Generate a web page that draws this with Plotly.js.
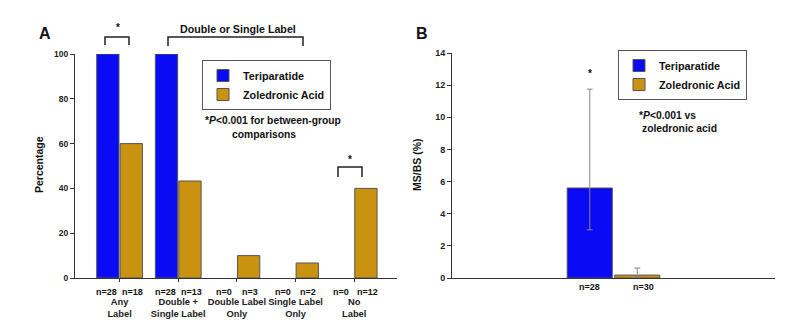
<!DOCTYPE html>
<html>
<head>
<meta charset="utf-8">
<script src="https://cdn.plot.ly/plotly-3.0.1.min.js"></script>
<style>
  html, body { margin: 0; padding: 0; background: #fff; }
  #chart { width: 785px; height: 325px; }
</style>
</head>
<body>
<div id="chart"></div>
<script>
// ---------- Data ----------
const categoriesA = ['Any<br>Label', 'Double +<br>Single Label', 'Double Label<br>Only', 'Single Label<br>Only', 'No<br>Label'];
const teriparatidePct = [100, 100, 0, 0, 0];
const zoledronicPct = [60, 43.3, 10, 6.7, 40];
const nTeriA = [28, 28, 0, 0, 0];
const nZolA = [18, 13, 3, 2, 12];

const categoriesB = ['MS/BS'];
const teriparatideMSBS = [5.6];
const zoledronicMSBS = [0.18];
const teriErrPlus = [6.15];
const teriErrMinus = [2.6];
const zolErrPlus = [0.44];
const zolErrMinus = [0.1];
const nTeriB = [28];
const nZolB = [30];

const yTicksA = [0, 20, 40, 60, 80, 100];
const yTicksB = [0, 2, 4, 6, 8, 10, 12, 14];

// ---------- Helpers ----------
const W = 785, H = 325;
const px = x => x / W;
const py = y => 1 - y / H;
const FONT = 'Arial, "Liberation Sans", sans-serif';
const BLUE = '#0a0af5';
const GOLD = '#c99210';
const AX = '#333333';

const xA = categoriesA.map((_, i) => i);
const xB = categoriesB.map((_, i) => i);
const outline = vals => vals.map(v => (v > 0 ? 1 : 0));

const traces = [
  { type: 'bar', name: 'Teriparatide', x: xA, y: teriparatidePct, xaxis: 'x', yaxis: 'y',
    marker: { color: BLUE, line: { color: '#555', width: outline(teriparatidePct) } }, legend: 'legend', hoverinfo: 'y' },
  { type: 'bar', name: 'Zoledronic Acid', x: xA, y: zoledronicPct, xaxis: 'x', yaxis: 'y',
    marker: { color: GOLD, line: { color: '#555', width: outline(zoledronicPct) } }, legend: 'legend', hoverinfo: 'y' },
  { type: 'bar', name: 'Teriparatide', x: xB, y: teriparatideMSBS, xaxis: 'x2', yaxis: 'y2',
    marker: { color: BLUE, line: { color: '#555', width: 1 } }, legend: 'legend2',
    error_y: { type: 'data', symmetric: false, array: teriErrPlus, arrayminus: teriErrMinus, color: '#888', thickness: 1, width: 3 } },
  { type: 'bar', name: 'Zoledronic Acid', x: xB, y: zoledronicMSBS, xaxis: 'x2', yaxis: 'y2',
    marker: { color: GOLD, line: { color: '#555', width: 1 } }, legend: 'legend2',
    error_y: { type: 'data', symmetric: false, array: zolErrPlus, arrayminus: zolErrMinus, color: '#888', thickness: 1, width: 3 } }
];

const tickFontA = { family: FONT, size: 8.5, color: '#222', weight: 700 };
const annFont = (s) => ({ family: FONT, size: s, color: '#111', weight: 700 });

const annotations = [];
// n labels panel A
xA.forEach((xi, i) => {
  annotations.push({ xref: 'x', yref: 'paper', x: xi - 0.22, y: py(292), text: 'n=' + nTeriA[i], showarrow: false, font: annFont(9), xanchor: 'center', yanchor: 'middle' });
  annotations.push({ xref: 'x', yref: 'paper', x: xi + 0.22, y: py(292), text: 'n=' + nZolA[i], showarrow: false, font: annFont(9), xanchor: 'center', yanchor: 'middle' });
});
// n labels panel B
xB.forEach((xi, i) => {
  annotations.push({ xref: 'x2', yref: 'paper', x: xi - 0.2, y: py(287), text: 'n=' + nTeriB[i], showarrow: false, font: annFont(9), xanchor: 'center', yanchor: 'middle' });
  annotations.push({ xref: 'x2', yref: 'paper', x: xi + 0.25, y: py(287), text: 'n=' + nZolB[i], showarrow: false, font: annFont(9), xanchor: 'center', yanchor: 'middle' });
});
// Panel letters, titles, notes
annotations.push(
  { xref: 'paper', yref: 'paper', x: px(45), y: py(33.5), text: 'A', showarrow: false, font: annFont(16), xanchor: 'center', yanchor: 'middle' },
  { xref: 'paper', yref: 'paper', x: px(422), y: py(33.5), text: 'B', showarrow: false, font: annFont(16), xanchor: 'center', yanchor: 'middle' },
  { xref: 'paper', yref: 'paper', x: px(39), y: py(165), text: 'Percentage', textangle: -90, showarrow: false, font: annFont(10.5), xanchor: 'center', yanchor: 'middle' },
  { xref: 'paper', yref: 'paper', x: px(417), y: py(165), text: 'MS/BS (%)', textangle: -90, showarrow: false, font: annFont(10.5), xanchor: 'center', yanchor: 'middle' },
  { xref: 'paper', yref: 'paper', x: px(118), y: py(28), text: '*', showarrow: false, font: annFont(10), xanchor: 'center', yanchor: 'middle' },
  { xref: 'paper', yref: 'paper', x: px(238), y: py(29), text: 'Double or Single Label', showarrow: false, font: annFont(10.7), xanchor: 'center', yanchor: 'middle' },
  { xref: 'paper', yref: 'paper', x: px(350), y: py(159), text: '*', showarrow: false, font: annFont(10), xanchor: 'center', yanchor: 'middle' },
  { xref: 'paper', yref: 'paper', x: px(203), y: py(121), text: '*<i>P</i>&lt;0.001 for between-group', showarrow: false, font: annFont(10.3), xanchor: 'left', yanchor: 'middle' },
  { xref: 'paper', yref: 'paper', x: px(264), y: py(134), text: 'comparisons', showarrow: false, font: annFont(10.3), xanchor: 'center', yanchor: 'middle' },
  { xref: 'paper', yref: 'paper', x: px(590), y: py(74), text: '*', showarrow: false, font: annFont(10), xanchor: 'center', yanchor: 'middle' },
  { xref: 'paper', yref: 'paper', x: px(637), y: py(116), text: '*<i>P</i>&lt;0.001 vs', showarrow: false, font: annFont(10.3), xanchor: 'left', yanchor: 'middle' },
  { xref: 'paper', yref: 'paper', x: px(640), y: py(128), text: 'zoledronic acid', showarrow: false, font: annFont(10.3), xanchor: 'left', yanchor: 'middle' }
);

const bracket = (x1, x2, yTop, yBot) => ({
  type: 'path', xref: 'paper', yref: 'paper',
  path: `M ${px(x1)},${py(yBot)} L ${px(x1)},${py(yTop)} L ${px(x2)},${py(yTop)} L ${px(x2)},${py(yBot)}`,
  line: { color: '#222', width: 1.5 }
});

const shapes = [
  bracket(105, 129, 37, 45),
  bracket(168, 303, 37, 46),
  bracket(338, 362, 167, 177)
];

const legendCommon = {
  xanchor: 'left', yanchor: 'top', bgcolor: '#fff', bordercolor: '#555', borderwidth: 1,
  font: { family: FONT, size: 10.8, color: '#111', weight: 700 }, tracegroupgap: 0, traceorder: 'normal',
  entrywidth: 88, entrywidthmode: 'pixels'
};

const layout = {
  width: W, height: H,
  margin: { l: 0, r: 0, t: 0, b: 0 },
  paper_bgcolor: '#fff', plot_bgcolor: '#fff',
  barmode: 'group', bargap: 0.2, bargroupgap: 0.05,
  showlegend: true,
  legend: Object.assign({ x: px(202), y: py(60) }, legendCommon),
  legend2: Object.assign({ x: px(618), y: py(50) }, legendCommon),
  xaxis: {
    domain: [px(75), px(397)], anchor: 'y', range: [-0.76, 4.73],
    tickvals: xA, ticktext: categoriesA, tickangle: 0, ticks: 'outside', ticklen: 3, tickcolor: AX,
    showline: true, linecolor: AX, linewidth: 1, showgrid: false, zeroline: false,
    tickfont: { family: FONT, size: 9.3, color: '#222', weight: 700 }, ticklabelstandoff: 12
  },
  yaxis: {
    domain: [py(278), py(54)], anchor: 'x', range: [0, 100],
    tickvals: yTicksA, ticks: 'outside', ticklen: 4, tickcolor: AX,
    showline: true, linecolor: AX, linewidth: 1, showgrid: false, zeroline: false,
    tickfont: tickFontA
  },
  xaxis2: {
    domain: [px(452), px(775)], anchor: 'y2', range: [-1.36, 1.36],
    showticklabels: false, ticks: '', showline: true, linecolor: AX, linewidth: 1,
    showgrid: false, zeroline: false
  },
  yaxis2: {
    domain: [py(278), py(53)], anchor: 'x2', range: [0, 14],
    tickvals: yTicksB, ticks: 'outside', ticklen: 4, tickcolor: AX,
    showline: true, linecolor: AX, linewidth: 1, showgrid: false, zeroline: false,
    tickfont: { family: FONT, size: 9, color: '#222', weight: 700 }
  },
  annotations: annotations,
  shapes: shapes
};

Plotly.newPlot('chart', traces, layout, { displayModeBar: false, staticPlot: true });
</script>
</body>
</html>
